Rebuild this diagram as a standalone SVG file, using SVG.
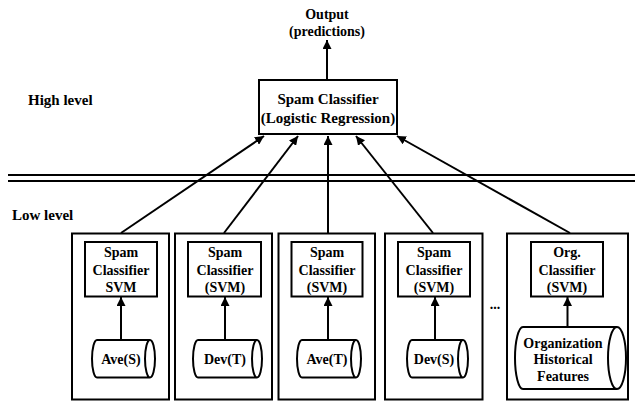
<svg xmlns="http://www.w3.org/2000/svg" width="635" height="401" viewBox="0 0 635 401">
<defs>
<style>
text{font-family:"Liberation Serif","Times New Roman",serif;font-weight:bold;font-size:14px;fill:#000;text-anchor:middle}
.lbl{text-anchor:start;font-size:15px}
.big{font-size:15px}
.box{fill:#fff;stroke:#000;stroke-width:2}
.cyl{fill:#fff;stroke:#000;stroke-width:2}
.con{stroke:#000;stroke-width:2;fill:none;marker-end:url(#ah)}
.sep{stroke:#000;stroke-width:2}
</style>
<marker id="ah" viewBox="0 0 10 10" refX="10" refY="5" markerWidth="9" markerHeight="9" markerUnits="userSpaceOnUse" orient="auto"><path d="M0,0 L10,5 L0,10 z" fill="#000"/></marker>
</defs>
<rect width="635" height="401" fill="#fff"/>
<g id="labels">
<text x="327" y="19">Output</text>
<text x="327" y="35.5">(predictions)</text>
<text class="lbl" x="28" y="105">High level</text>
<text class="lbl" x="12" y="220">Low level</text>
<text x="495" y="309">...</text>
</g>
<g id="separator">
<line class="sep" x1="8" y1="175" x2="635" y2="175"/>
<line class="sep" x1="8" y1="181" x2="635" y2="181"/>
</g>
<g id="main">
<rect class="box" x="259" y="80" width="138" height="54"/>
<text class="big" x="328" y="104">Spam Classifier</text>
<text class="big" x="328" y="123">(Logistic Regression)</text>
</g>
<g id="group1">
<rect class="box" x="72" y="233.5" width="97" height="166"/>
<rect class="box" x="85" y="242" width="72" height="54.5"/>
<text x="121" y="257">Spam</text>
<text x="121" y="275">Classifier</text>
<text x="121" y="291.5">SVM</text>
<path class="cyl" d="M97,340 H150 A5,18.75 0 0 1 150,377.5 H97 A5,18.75 0 0 1 97,340 Z M150,340 A5,18.75 0 0 0 150,377.5"/>
<text x="121" y="364">Ave(S)</text>
</g>
<g id="group2">
<rect class="box" x="175" y="233.5" width="97" height="166"/>
<rect class="box" x="188" y="242" width="73" height="54.5"/>
<text x="225" y="257">Spam</text>
<text x="225" y="275">Classifier</text>
<text x="225" y="291.5">(SVM)</text>
<path class="cyl" d="M198,340 H257 A5,18.75 0 0 1 257,377.5 H198 A5,18.75 0 0 1 198,340 Z M257,340 A5,18.75 0 0 0 257,377.5"/>
<text x="225" y="364">Dev(T)</text>
</g>
<g id="group3">
<rect class="box" x="278.5" y="233.5" width="96.5" height="166"/>
<rect class="box" x="291.5" y="242" width="71" height="54.5"/>
<text x="327" y="257">Spam</text>
<text x="327" y="275">Classifier</text>
<text x="327" y="291.5">(SVM)</text>
<path class="cyl" d="M302,340 H356 A5,18.75 0 0 1 356,377.5 H302 A5,18.75 0 0 1 302,340 Z M356,340 A5,18.75 0 0 0 356,377.5"/>
<text x="327" y="364">Ave(T)</text>
</g>
<g id="group4">
<rect class="box" x="385" y="233.5" width="97.5" height="166"/>
<rect class="box" x="398" y="242" width="72" height="54.5"/>
<text x="434" y="257">Spam</text>
<text x="434" y="275">Classifier</text>
<text x="434" y="291.5">(SVM)</text>
<path class="cyl" d="M412,340 H463 A5,18.75 0 0 1 463,377.5 H412 A5,18.75 0 0 1 412,340 Z M463,340 A5,18.75 0 0 0 463,377.5"/>
<text x="434" y="364">Dev(S)</text>
</g>
<g id="group5">
<rect class="box" x="507" y="233.5" width="121" height="166"/>
<rect class="box" x="531" y="242" width="72" height="54.5"/>
<text x="567" y="257">Org.</text>
<text x="567" y="275">Classifier</text>
<text x="567" y="291.5">(SVM)</text>
<path class="cyl" d="M523,327 H617 A9,31 0 0 1 617,389 H523 A8,31 0 0 1 523,327 Z M617,327 A9,31 0 0 0 617,389"/>
<text x="563" y="348">Organization</text>
<text x="563" y="364">Historical</text>
<text x="563" y="381">Features</text>
</g>
<g id="connectors">
<line class="con" x1="327" y1="80" x2="327" y2="40"/>
<line class="con" x1="121" y1="233" x2="264" y2="136"/>
<line class="con" x1="224" y1="233" x2="298" y2="136"/>
<line class="con" x1="328" y1="233" x2="328" y2="136"/>
<line class="con" x1="433" y1="233" x2="356" y2="136"/>
<line class="con" x1="570" y1="233" x2="397" y2="136"/>
<line class="con" x1="121" y1="340" x2="121" y2="297"/>
<line class="con" x1="225" y1="340" x2="225" y2="297"/>
<line class="con" x1="328" y1="340" x2="328" y2="297"/>
<line class="con" x1="435" y1="340" x2="435" y2="297"/>
<line class="con" x1="567.5" y1="327" x2="567.5" y2="297"/>
</g>
</svg>
